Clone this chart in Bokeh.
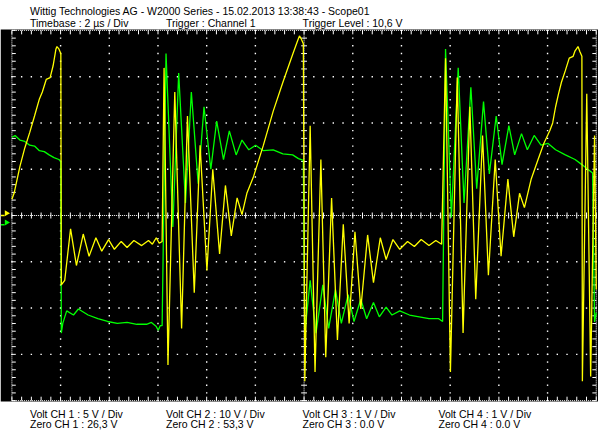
import numpy as np
from bokeh.plotting import figure
from bokeh.models import Label, Range1d
from bokeh.embed import file_html
from bokeh.resources import INLINE

# ---------------- data (time in µs, level in divisions) ----------------
ch1_t_us = [
    0.00, 0.09, 0.21, 0.33, 0.53, 0.73, 0.93, 1.13, 1.25, 1.41, 1.57, 1.69, 1.81, 1.85, 1.93, 2.01,
    2.03, 2.17, 2.41, 2.65, 2.93, 3.17, 3.45, 3.69, 3.97, 4.21, 4.49, 4.73, 5.01, 5.33, 5.61, 5.77, 5.93, 6.05, 6.17,
    6.25, 6.41, 6.69, 6.97, 7.21, 7.49, 7.73, 8.01, 8.25, 8.53, 8.77, 9.01, 9.25,
    9.45, 9.65, 9.93, 10.33, 10.73, 11.13, 11.53, 11.73, 11.81, 11.89, 11.97,
    12.03, 12.25, 12.45, 12.69, 12.89, 13.13, 13.37, 13.61, 13.85, 14.09, 14.33, 14.61, 14.85, 15.13, 15.37, 15.65,
    15.93, 16.25, 16.53, 16.81, 17.13, 17.41, 17.65,
    17.81, 18.01, 18.29, 18.53, 18.81, 19.05, 19.33, 19.57, 19.85, 20.09, 20.37, 20.61, 20.85,
    21.05, 21.33, 21.61, 21.85, 22.09, 22.21, 22.33, 22.45, 22.57, 22.73, 22.89, 23.05, 23.13, 23.25, 23.33, 23.41,
    23.43, 23.61, 23.77, 23.93, 24.00,
]
ch1_div = [
    0.35, 0.48, 0.77, 1.06, 1.46, 1.79, 2.15, 2.52, 2.67, 2.94, 2.98, 3.23, 3.60, 3.65, 3.60, 3.50,
    -1.50, -1.40, -0.29, -1.08, -0.40, -0.88, -0.48, -0.77, -0.52, -0.73, -0.56, -0.69, -0.54, -0.65, -0.54, -0.62, -0.48, -0.60, -0.56,
    3.19, -3.23, 2.67, -2.44, 2.15, -1.67, 1.52, -1.19, 1.00, -0.83, 0.65, -0.44, 0.38,
    0.02, 0.48, 0.85, 1.52, 2.25, 2.88, 3.48, 3.77, 3.88, 3.81, 3.71,
    -3.58, 1.94, -3.38, 1.21, -3.06, 0.38, -2.69, -0.19, -2.33, -0.35, -2.02, -0.42, -1.45, -0.48, -0.95, -0.52,
    -0.73, -0.56, -0.67, -0.52, -0.65, -0.54, -0.62,
    3.40, -3.38, 2.98, -2.54, 2.35, -1.81, 1.73, -1.29, 1.21, -0.88, 0.79, -0.46, 0.48,
    0.17, 0.79, 1.21, 1.56, 1.83, 2.00, 2.35, 2.63, 2.88, 3.13, 3.40, 3.44, 3.56, 3.65, 3.54, 3.44,
    -3.58, 2.63, -3.48, 1.73, -1.60,
]

ch2_t_us = [
    0.00, 0.13, 0.33, 0.53, 0.73, 0.93, 1.13, 1.33, 1.53, 1.73, 1.93, 2.01,
    2.03, 2.09, 2.25, 2.53, 2.73, 3.13, 3.53, 3.93, 4.33, 4.73, 5.13, 5.53, 5.73, 5.93, 6.01, 6.09, 6.17,
    6.33, 6.61, 6.85, 7.13, 7.37, 7.65, 7.89, 8.17, 8.41, 8.69, 8.93, 9.21, 9.45, 9.73,
    10.01, 10.33, 10.73, 11.13, 11.53, 11.77, 11.97,
    12.03, 12.25, 12.49, 12.77, 13.01, 13.29, 13.53, 13.81, 14.05, 14.33, 14.57, 14.85, 15.09, 15.37, 15.61,
    15.93, 16.33, 16.73, 17.13, 17.53, 17.69,
    17.81, 18.05, 18.33, 18.57, 18.85, 19.09, 19.37, 19.61, 19.89, 20.13, 20.41, 20.65, 20.93, 21.17, 21.45, 21.73,
    22.01, 22.33, 22.73, 23.13, 23.41, 23.65, 23.85,
    23.93, 24.00,
]
ch2_div = [
    1.69, 1.73, 1.63, 1.60, 1.52, 1.50, 1.40, 1.38, 1.31, 1.25, 1.21, 1.17,
    -2.54, -2.33, -2.06, -2.15, -2.02, -2.15, -2.23, -2.29, -2.33, -2.31, -2.35, -2.35, -2.31, -2.40, -2.48, -2.38, -2.38,
    3.50, -0.25, 3.08, 0.27, 2.67, 0.69, 2.35, 1.00, 2.04, 1.21, 1.83, 1.31, 1.63, 1.42,
    1.52, 1.40, 1.42, 1.33, 1.31, 1.23, 1.19,
    -2.54, -1.40, -2.54, -1.50, -2.44, -1.60, -2.33, -1.71, -2.29, -1.81, -2.23, -1.88, -2.19, -1.98, -2.15,
    -2.06, -2.15, -2.19, -2.23, -2.23, -2.29,
    3.60, -0.04, 3.19, 0.27, 2.77, 0.58, 2.46, 0.90, 2.15, 1.10, 1.94, 1.31, 1.77, 1.42, 1.73, 1.52,
    1.56, 1.42, 1.31, 1.21, 1.10, 1.00, 0.92,
    -2.30, -2.10,
]
assert len(ch1_t_us) == len(ch1_div)
assert len(ch2_t_us) == len(ch2_div)

marker_levels_div = [0.05, -0.15]          # CH1, CH2 position markers
marker_colors = ["#FFFF00", "#00FF00"]

header_line1 = "Wittig Technologies AG - W2000 Series  -  15.02.2013 13:38:43 - Scope01"
header_line2 = ["Timebase : 2 µs / Div", "Trigger : Channel 1", "Trigger Level : 10,6 V"]
footer_line1 = ["Volt CH 1 : 5 V / Div", "Volt CH 2 : 10 V / Div", "Volt CH 3 : 1 V / Div", "Volt CH 4 : 1 V / Div"]
footer_line2 = ["Zero CH 1 : 26,3 V", "Zero CH 2 : 53,3 V", "Zero CH 3 : 0.0 V", "Zero CH 4 : 0.0 V"]

# ---------------- screen geometry ----------------
US_PER_DIV = 2.0
N_XDIV = 12
N_YDIV = 8
T_MAX = US_PER_DIV * N_XDIV
V_HALF = N_YDIV / 2
X_LO, X_HI = -0.468, 24.092        # black screen horizontal extent
SCREEN_V = 4.021                   # black screen vertical half extent

p = figure(width=598, height=431,
           x_range=Range1d(X_LO, X_HI), y_range=Range1d(-4.667, 4.646),
           x_axis_type=None, y_axis_type=None,
           toolbar_location=None, output_backend="svg", min_border=0)
p.background_fill_color = "white"
p.border_fill_color = "white"
p.outline_line_color = None

# black scope screen
p.quad(left=[X_LO], right=[X_HI], bottom=[-SCREEN_V], top=[SCREEN_V], color="black", line_color=None)

WHITE = "white"
# dotted grid
hx = np.arange(0, T_MAX + 1e-9, US_PER_DIV / 5)
vy = np.arange(-V_HALF, V_HALF + 1e-9, 1 / 6)
dots_x, dots_y = [], []
for lev in range(-int(V_HALF) + 1, int(V_HALF)):
    if lev == 0:
        continue
    dots_x += list(hx)
    dots_y += [lev] * len(hx)
for k in range(1, N_XDIV):
    if k == N_XDIV // 2:
        continue
    dots_x += [k * US_PER_DIV] * len(vy)
    dots_y += list(vy)
p.scatter(dots_x, dots_y, marker="square", size=1.4, color=WHITE, line_color=None)

# dense dotted borders and centre lines
tc = T_MAX / 2
p.segment(x0=[0, T_MAX, 0, 0, tc, 0], y0=[-V_HALF, -V_HALF, -V_HALF, V_HALF, -V_HALF, 0],
          x1=[0, T_MAX, T_MAX, T_MAX, tc, T_MAX], y1=[V_HALF, V_HALF, -V_HALF, V_HALF, V_HALF, 0],
          line_color=WHITE, line_width=1, line_dash="1 1")

# ticks
dv_tick = 0.065
dt_tick = 0.12
seg_x0, seg_y0, seg_x1, seg_y1 = [], [], [], []
for t in hx:
    seg_x0 += [t, t, t]; seg_x1 += [t, t, t]
    seg_y0 += [-dv_tick, V_HALF, -V_HALF]
    seg_y1 += [dv_tick, V_HALF - 0.085, -V_HALF + 0.085]
for v in vy:
    seg_y0 += [v, v, v]; seg_y1 += [v, v, v]
    seg_x0 += [tc - dt_tick, 0, T_MAX]
    seg_x1 += [tc + dt_tick, 0.16, T_MAX - 0.16]
p.segment(seg_x0, seg_y0, seg_x1, seg_y1, line_color=WHITE, line_width=1)

# traces
p.line(ch2_t_us, ch2_div, line_color="#00FF00", line_width=1.3)
p.line(ch1_t_us, ch1_div, line_color="#FFFF00", line_width=1.3)

# channel markers at left edge
p.scatter([-0.22] * 2, marker_levels_div, marker="triangle", angle=-np.pi / 2,
          size=6, color=marker_colors, line_color=None)
p.segment([-0.45] * 2, [l - 0.05 for l in marker_levels_div], [-0.3] * 2, [l - 0.05 for l in marker_levels_div],
          line_color=marker_colors, line_width=1.5)

# texts
FONT = "Liberation Sans"
FS = "10.5px"
def add_label(x, y, text):
    p.add_layout(Label(x=x, y=y, text=text, text_font=FONT, text_font_size=FS,
                       text_color="black", text_baseline="alphabetic", text_align="left"))

cols_hdr = [0.744, 6.33, 11.94]
cols_ftr = [0.744, 6.33, 11.94, 17.52]
add_label(cols_hdr[0], 4.42, header_line1)
for x, t in zip(cols_hdr, header_line2):
    add_label(x, 4.15, t)
for x, t in zip(cols_ftr, footer_line1):
    add_label(x, -4.28, t)
for x, t in zip(cols_ftr, footer_line2):
    add_label(x, -4.51, t)

open("out.html", "w").write(file_html(p, INLINE))
